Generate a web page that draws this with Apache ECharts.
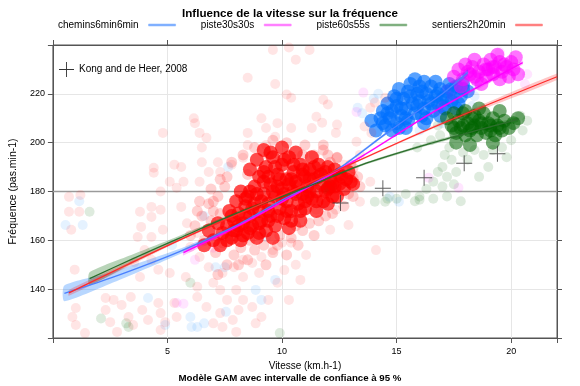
<!DOCTYPE html>
<html><head><meta charset="utf-8">
<script src="https://cdn.jsdelivr.net/npm/echarts@6/dist/echarts.min.js"></script>
<style>html,body{margin:0;padding:0;background:#fff}#c{width:580px;height:386px}</style>
</head><body><div id="c"></div>
<script>
const FONT = 'Liberation Sans, Arial, sans-serif';
const groups = ['chemins6min6min', 'piste30s30s', 'piste60s55s', 'sentiers2h20min'];
const refName = 'Kong and de Heer, 2008';
const xTickLabels = [5, 10, 15, 20];
const yTickLabels = [140, 160, 180, 200, 220];

// sentiers2h20min (red)
const redSparse = [
[4.8,204],[4.4,189.7],[5.3,191],[4.4,187.7],[5.1,184],[4.7,180],[5.4,181.5],[0.7,177.8],
[9.6,238],[10.3,239],[10.6,234],[8.5,226.6],[9.7,224],[10.2,219.7],[10.4,218.4],[6.15,210],[6.2,208],[6.4,204],[6.7,202],[6.5,198],[8.5,204],[9.1,210],[9.3,206],[9.8,208],[9.7,202.4],[10.4,206],[8.5,199],[9.3,199],[5.6,190],[6.5,192],[7.2,192],[7.3,188],[5.7,184],[6.4,184],[6.8,188],[7.8,191],[8.3,193.8],
[1.2,178.6],[0.7,171.7],[1.15,171.7],[0.8,164.3],[0.95,148],[3.8,171.7],[4.3,173.7],[4.3,169.6],[4.7,172.5],[3.85,165.5],[3.7,161.4],[4.3,161.4],[4.8,164.3],[4,156],[4.3,152],[3.55,151],[3.8,145],[4.6,148],[5.1,146.6],[3.4,136.8],[3,133.5],[2.3,136.4],[2.65,135.6],[1,132.3],[0.85,128.6],[1,125.3],[1.4,122],[2.3,131.5],[2.5,126.5],[2.8,122.5],[3.3,128.6],[3.5,125.3],[3.9,131.5],[4.15,127.4],[4.6,134.3],[4.7,130.2],[4.9,126.5],[4.7,123.3],[5.3,134.3],[5.4,128.6],
[5.6,173.7],[5.85,167],[6.3,163],[6,157.3],[6.4,153.2],[6.8,149],[5.8,145],[6.3,141],[7,142.6],[7.4,146.6],[7.9,149],[8.3,152],[8.7,150.7],[9.1,153.2],[9.6,156],[9,146.6],[8.3,145],[8,139.7],[7.3,139.7],[7.6,135.6],[8.3,135.6],[8.7,132.7],[8.1,131.5],[7.85,127.4],[7.3,130.2],[6.7,132.7],[6.3,136.8],[7,126],[7.4,124.5],[8,122.5],[8.85,126],[9.1,128.6],[9.4,135.6],[9.8,142.6],[10.1,147.8],[10,159],[10.4,159],[10.3,135.6],[10.8,143.8],[10.6,150],
[11.2,238],[11.8,217.6],[12,215.6],[11.5,210.6],[11.75,208.2],[11.3,206],[12.4,207.4],[12.35,204],[13.85,214.3],[14.05,216.4],[14.5,218.4],[13.6,206.6],[13.9,204],[13.25,200.4],[13.4,195],[13,188],[13.85,184],[12.7,191],
[11.5,172.5],[12.35,172.5],[13.4,175.8],[12.1,164.3],[12.9,166.3],[14.1,156],[11.05,154]
];
const redHalo = [
[6.5,170],[6.8,175],[7.0,172],[7.2,178],[7.5,182],[7.1,155],[7.6,150],[7.9,154],[8.2,157],[8.5,152],[8.8,156],[9.2,158],[9.6,155],[9.9,162],[10.4,161],[10.9,164],[11.2,167],[11.6,168],[12.2,171],[12.7,174],[13.1,178],[13.4,182],[13.0,191],[12.4,194],[11.8,197],[11.0,199],[10.2,200],[9.6,201],[8.8,198],[8.3,195],[7.8,192],[7.3,185],[6.9,181],[6.4,176],[6.2,166],[6.0,162],[6.6,160],[7.4,159],[8.6,160],[9.1,163],[10.6,166],[11.9,170],[12.9,179],[13.3,186],[12.1,192],[10.9,195],[9.4,195],[8.5,187],[7.6,186],[7.0,176],[6.9,168],[7.3,171],[9.8,158],[10.7,158],[11.4,162],[8.1,150],[7.2,146],[9.3,150],[10.2,154],[6.3,172],
[11.4,195],[12,195],[12.4,193.8],[11.8,199],[13.1,189.7],[12.55,188],[13.1,185.6],[12.4,184]
];
const redCore = [
[7.4,163],[7.6,166],[7.8,161],[7.9,168],[8.0,164],[8.1,171],[8.2,160],[8.3,167],[8.4,174],[8.5,163],[8.5,178],[8.6,170],[8.7,166],[8.8,182],[8.8,175],[8.9,161],[9.0,172],[9.0,186],[9.1,168],[9.2,179],[9.3,164],[9.3,190],[9.4,175],[9.5,183],[9.5,170],[9.6,194],[9.7,178],[9.7,166],[9.8,187],[9.9,173],[10.0,181],[10.0,191],[10.1,169],[10.2,185],[10.2,176],[10.3,194],[10.4,172],[10.5,180],[10.5,188],[10.6,184],[10.7,175],[10.8,191],[10.9,179],[11.0,186],[11.0,173],[11.1,182],[11.2,189],[11.3,177],[11.4,185],[11.5,180],[11.6,191],[11.7,183],[11.8,176],[11.9,188],[12.0,181],[12.1,185],[12.2,178],[12.3,189],[12.5,183],[12.6,186],[12.8,185],[13.0,184],
[8.0,176],[8.2,180],[7.7,172],[7.3,158],[7.0,160],[7.2,167],[6.8,164],[6.6,158],[8.9,193],[9.2,197],[10.6,196],[11.3,194],[9.6,161],[10.3,165],[10.8,168],[11.5,172],[12.0,175],[12.4,178],
[8.6,180],[9.2,184],[9.8,182],[10.4,185],[10.9,187],[11.6,186],[12.2,183],[9.4,172],[10.0,177],[10.6,179],[11.2,180],[8.4,170],[7.9,164],[9.0,167],[10.2,172],[11.0,176],
[7.6,160],[7.8,170],[8.1,166],[8.3,162],[8.4,177],[8.6,165],[8.7,173],[8.9,179],[9.0,163],[9.1,176],[9.2,188],[9.4,168],[9.4,186],[9.6,180],[9.7,190],[9.8,170],[9.9,185],[10.1,179],[10.1,193],[10.3,183],[10.4,168],[10.5,191],[10.7,182],[10.8,172],[10.9,189],[11.1,178],[11.2,185],[11.4,190],[11.5,176],[11.7,187],[11.9,180],[12.0,190],[12.3,182],[12.5,187],[12.7,181],[12.9,188],[13.1,183],[9.5,196],[10.0,198],[8.6,189]
];
// chemins6min6min (blue)
const blueCore = [
[14.3,210],[14.4,213],[14.5,207],[14.6,216],[14.7,210],[14.8,213],[14.9,219],[15.0,208],[15.0,215],[15.1,222],[15.2,211],[15.3,218],[15.4,214],[15.5,221],[15.5,209],[15.6,224],[15.7,216],[15.8,212],[15.9,220],[16.0,217],[16.0,223],[16.1,211],[16.2,214],[16.3,220],[16.4,217],[16.5,223],[16.6,213],[16.7,219],[16.8,216],[16.9,222],[17.0,218],[17.1,214],[17.2,221],[17.3,224],[17.4,217],[17.5,220],[17.6,223],[17.8,219],[17.9,222],[18.1,221],[14.8,205],[15.4,206],[16.2,208],[16.9,211],[17.6,214],[15.8,226],[16.7,225],[13.9,209],[14.1,205],
[14.6,212],[15.0,218],[15.2,214],[15.4,210],[15.6,219],[15.9,215],[16.1,221],[16.3,210],[16.5,216],[16.8,220],[17.0,215],[17.2,218],[17.4,222],[17.7,216],[15.1,206],[14.4,208],[16.2,225],[17.9,224]
];
const blueSparse = [
[0.55,166.3],[1.3,166.3],[1.15,176],[4.15,136.4],[4.9,125.3],[6.05,124.5],[6,128.6],[6.6,126],[7.1,149],[7.5,149],[8.85,139.7],[9.1,135.6],[9.7,143.8],[9.3,161.4],[7.55,130.7],[7.65,190],[13.3,214.3],[14,218],[13.5,212],[14.2,220],[18.5,224],[18.4,219],[16,205],[17,208],[18.3,215],[11.8,174.5],[15.1,175.8],[14.7,177.8],[6.3,124.5],[5.2,158],[6.6,170]
];
// piste30s30s (magenta)
const magCore = [
[17.5,227],[17.7,230],[17.9,226],[18.0,232],[18.2,228],[18.3,231],[18.5,226],[18.6,229],[18.8,232],[18.9,227],[19.0,230],[19.1,234],[19.2,228],[19.3,231],[19.5,226],[19.5,233],[19.6,229],[19.8,231],[19.9,227],[20.0,233],[20.1,230],[20.3,228],[18.4,234],[17.8,223],[18.7,224],[19.4,236],[20.2,235],
[18.1,229],[18.9,230],[19.7,232],[18.4,227],[19.2,231]
];
const magSparse = [
[17.2,222],[17.4,219],[16.8,213],[17,215],[13.55,220.5],[13.25,212.6],[20.7,228],[20.6,224],[16.4,185.6],[17.7,181.5],[5.4,134.3],[5.7,134],[6.2,152],[7,157],[8,163],[9.5,172],[11,181],[12,185],[19.5,237],[18.2,221]
];
// piste60s55s (green)
const greenCore = [
[17.2,210],[17.4,207],[17.5,212],[17.6,204],[17.7,209],[17.8,206],[17.9,212],[18.0,203],[18.1,208],[18.2,205],[18.3,210],[18.4,207],[18.5,203],[18.6,209],[18.7,206],[18.8,212],[18.9,204],[19.0,208],[19.1,205],[19.2,210],[19.3,203],[19.4,207],[19.6,205],[19.7,209],[19.9,206],[20.1,208],[20.3,210],[18.0,213],[18.6,214],[19.5,213],[17.6,200],[18.2,199],[19.2,200],[12.1,182],[12.0,181.5],
[17.9,207],[18.3,206],[18.7,208],[19.1,207],[19.5,206],[18.4,211],[17.5,206]
];
const greenSparse = [
[17.3,198],[17.1,195],[17.4,193],[17.0,190],[16.8,188],[17.2,186],[17.6,188],[16.6,184],[17.0,182],[17.5,183],[16.3,181],[16.0,178],[15.8,176],[16.6,177],[17.2,178],[15.4,179],[15.0,177],[14.6,177],[18.4,197],[18.8,195],[19.2,197],[19.6,198],[20.0,201],[20.5,205],[20.4,211],[16.8,207],[16.9,203],[16.5,201],[15.9,198],[20.7,209],[19.8,194],[19.0,190],[18.6,186],[17.8,176],[14.05,175.8],[14.5,175.8],[16,176.6],
[1.6,171.7],[2.1,128],[3.3,124.5],[3.2,126],[9.9,122],[6,142.6],[11.5,184],[17.9,196],[18.1,193]
];
// GAM fits and half-widths of the 95% bands
const blueFit = [[0.5,138.3],[2.5,144.5],[5.5,155.3],[8,166],[10,176.5],[11,181.3],[12.5,189.5],[14.5,203.5],[16,213.5],[17,220],[18.1,228.7]];
const blueHalf = [3.2,2.3,1.1,0.6,0.5,0.5,0.5,0.6,0.7,0.9,1.3];
const magFit = [[5.7,155],[8,165.5],[11,181],[13.5,194.5],[16.5,212],[20.5,232.8]];
const magHalf = [1.2,0.7,0.5,0.5,0.5,0.9];
const greenFit = [[1.6,144.3],[3.5,152.5],[5.5,160.8],[8,171],[11,181.5],[13.5,191],[16.4,199.5],[18.5,205],[20.3,209.5]];
const greenHalf = [2.6,1.8,1.0,0.6,0.5,0.5,0.6,0.7,0.9];
const redFit = [[0.7,138.5],[5.5,160],[11,182.7],[16.4,205.5],[22,227]];
const redHalf = [1.2,0.5,0.3,0.5,1.3];
// Kong and de Heer, 2008
const kong = [[12.55,175.3],[14.4,181.3],[16.2,185.6],[17.95,191.6],[19.4,195.5]];

const legendColors = ['#80b0ff', '#ff80ff', '#80b080', '#ff8080'];
const plusPath = 'path://M-0.06,-1h0.12v2h-0.12zM-1,-0.06h2v0.12h-2z';

function sc(name, data, color, opacity, size) {
  return {type:'scatter', name:name, data:data, symbolSize:size, silent:true, z:2,
    itemStyle:{color:color, opacity:opacity}, emphasis:{disabled:true}};
}
function band(name, fit, half, color) {
  return {type:'custom', name:name, silent:true, z:3, clip:true, data:[[fit[0][0], fit[0][1]]],
    renderItem:function(params, api){
      const up = [], dn = [];
      for (let i = 0; i < fit.length; i++) {
        up.push(api.coord([fit[i][0], fit[i][1] + half[i]]));
        dn.unshift(api.coord([fit[i][0], fit[i][1] - half[i]]));
      }
      return {type:'polygon', shape:{points:up.concat(dn), smooth:0.2}, style:{fill:color}};
    }};
}
function ln(name, fit, color) {
  return {type:'line', name:name, data:fit, showSymbol:false, smooth:0.3, silent:true, z:4,
    lineStyle:{color:color, width:1.3}, emphasis:{disabled:true}};
}

const chart = echarts.init(document.getElementById('c'));
chart.setOption({
  animation:false,
  textStyle:{fontFamily:FONT},
  title:[
    {text:'Influence de la vitesse sur la fréquence', left:'center', top:3,
     textStyle:{fontSize:11.6, fontWeight:'bold', color:'#000', fontFamily:FONT}},
    {text:'Modèle GAM avec intervalle de confiance à 95 %', left:'center', top:373,
     textStyle:{fontSize:9.7, fontWeight:'bold', color:'#000', fontFamily:FONT}, padding:0}
  ],
  legend:[
    {data:groups.map(function(g, i){
        return {name:g, itemStyle:{color:legendColors[i], borderColor:legendColors[i], opacity:1, borderWidth:0.5},
                lineStyle:{color:legendColors[i], opacity:1}};
      }),
     left:58, top:20, align:'right', icon:'rect', itemWidth:27, itemHeight:2, itemGap:25,
     selectedMode:false, padding:0,
     textStyle:{fontSize:10, color:'#000', fontFamily:FONT, padding:[0,5,0,0]}},
    {data:[{name:refName, itemStyle:{color:'#333', borderColor:'#333', borderWidth:0, opacity:1}}],
     left:59, top:62, icon:plusPath, itemWidth:15, itemHeight:15, selectedMode:false, padding:0,
     textStyle:{fontSize:10, color:'#000', fontFamily:FONT}}
  ],
  grid:{left:43, right:23, top:45, bottom:48, show:true, borderColor:'#555', borderWidth:1, backgroundColor:'#fff'},
  xAxis:[
    {type:'value', min:0, max:22, interval:5, position:'bottom',
     name:'Vitesse (km.h-1)', nameLocation:'middle', nameGap:23,
     nameTextStyle:{fontSize:10, color:'#000', fontFamily:FONT},
     axisLine:{show:true, onZero:false, lineStyle:{color:'#555'}},
     axisTick:{show:true, inside:false, length:5, lineStyle:{color:'#555'}},
     axisLabel:{fontSize:9, color:'#000', margin:9, fontFamily:FONT,
       formatter:function(v){ return xTickLabels.indexOf(v) >= 0 ? String(v) : ''; }},
     splitLine:{show:true, lineStyle:{color:'#e6e6e6', width:1}}},
    {type:'value', min:0, max:22, interval:5, position:'top',
     axisLine:{show:true, onZero:false, lineStyle:{color:'#555'}},
     axisTick:{show:true, inside:false, length:5, lineStyle:{color:'#555'}},
     axisLabel:{show:false}, splitLine:{show:false}}
  ],
  yAxis:[
    {type:'value', min:120, max:240, interval:20, position:'left',
     name:'Fréquence (pas.min-1)', nameLocation:'middle', nameGap:28,
     nameTextStyle:{fontSize:10.5, color:'#000', fontFamily:FONT},
     axisLine:{show:true, onZero:false, lineStyle:{color:'#555'}},
     axisTick:{show:true, inside:false, length:5, lineStyle:{color:'#555'}},
     axisLabel:{fontSize:9, color:'#000', margin:8, fontFamily:FONT,
       formatter:function(v){ return yTickLabels.indexOf(v) >= 0 ? String(v) : ''; }},
     splitLine:{show:true, lineStyle:{color:'#e6e6e6', width:1}}},
    {type:'value', min:120, max:240, interval:20, position:'right',
     axisLine:{show:true, onZero:false, lineStyle:{color:'#555'}},
     axisTick:{show:true, inside:false, length:5, lineStyle:{color:'#555'}},
     axisLabel:{show:false}, splitLine:{show:false}}
  ],
  series:[
    Object.assign(sc(groups[0], blueSparse, '#0080ff', 0.1, 10), {
      markLine:{silent:true, symbol:'none', label:{show:false}, z:1,
        lineStyle:{color:'#9a9a9a', width:1.3, type:'solid'}, data:[{yAxis:180}]}}),
    sc(groups[0], blueCore, '#0070ff', 0.65, 14),
    sc(groups[1], magSparse, '#ff00ff', 0.1, 10),
    sc(groups[1], magCore, '#ff00ff', 0.55, 14),
    sc(groups[2], greenSparse, '#006400', 0.13, 10),
    sc(groups[2], greenCore, '#006400', 0.55, 14),
    sc(groups[3], redSparse, '#ff0000', 0.1, 10),
    sc(groups[3], redHalo, '#ff0000', 0.18, 11),
    sc(groups[3], redCore, '#ff0000', 0.7, 14),
    band(groups[0], blueFit, blueHalf, 'rgba(0,110,255,0.28)'),
    band(groups[1], magFit, magHalf, 'rgba(255,0,255,0.25)'),
    band(groups[2], greenFit, greenHalf, 'rgba(0,100,0,0.28)'),
    band(groups[3], redFit, redHalf, 'rgba(255,0,0,0.22)'),
    ln(groups[0], blueFit, '#4a80ff'),
    ln(groups[1], magFit, '#ff00ff'),
    ln(groups[2], greenFit, '#2d6e2d'),
    ln(groups[3], redFit, '#ff2a2a'),
    {type:'scatter', name:refName, data:kong, symbol:plusPath, symbolSize:16, z:5, silent:true,
     itemStyle:{color:'#333'}, emphasis:{disabled:true}}
  ]
});
</script></body></html>
